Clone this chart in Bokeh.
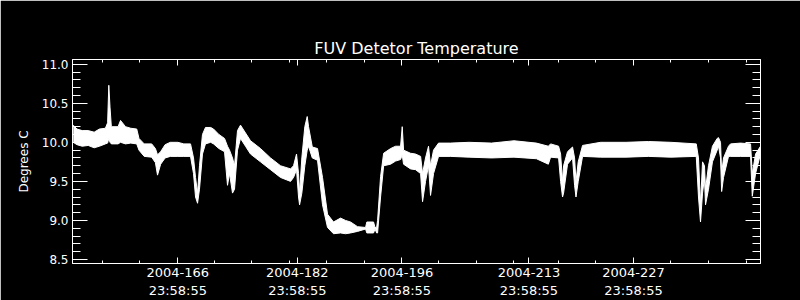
from bokeh.plotting import figure
from bokeh.models import Range1d, LinearAxis, FixedTicker, ColumnDataSource, PrintfTickFormatter
from bokeh.embed import file_html
from bokeh.resources import INLINE

# ---- data (day of year 2004, temperature envelope in deg C) ----
day = [153.0, 153.5, 154.2, 155.0, 155.8, 156.5, 157.3, 157.6, 157.76, 157.92, 158.1,
       159.0, 159.33, 160.0, 160.7, 161.5, 161.8, 162.5, 163.5, 164.0, 164.28, 164.7,
       165.3, 166.0, 167.0, 167.8, 168.7, 169.1, 169.37, 169.64, 169.9, 170.3, 170.7,
       171.4, 171.78, 172.5, 173.25, 173.65, 173.92, 174.32, 174.59, 174.99, 175.39,
       176.06, 176.73, 178.07, 179.41, 180.75, 182.09, 182.49, 182.89, 183.16, 183.3,
       183.6, 184.0, 184.32, 184.5, 185.0, 185.7, 186.37, 187.04, 187.84, 188.78,
       189.45, 190.12, 191.06, 192.13, 192.3, 193.2, 193.4, 193.61, 193.74, 194.14,
       194.55, 195.48, 196.15, 196.82, 197.04, 197.22, 198.15, 198.82, 199.5, 199.76,
       200.16, 200.56, 200.83, 201.23, 201.9, 203.5, 206.0, 209.0, 212.0, 215.0,
       216.6, 216.9, 217.97, 218.24, 218.5, 218.64, 219.17, 219.84, 220.11, 220.3,
       220.6, 221.18, 223.59, 227.0, 230.0, 233.0, 236.4, 236.7, 236.97, 237.24,
       237.5, 237.64, 238.04, 238.57, 239.2, 239.38, 239.65, 239.8, 240.05, 240.72,
       240.99, 242.33, 243.67, 243.9, 244.34, 245.0]
temp_low = [10.00, 9.97, 9.95, 9.96, 9.93, 9.95, 9.98, 9.99, 10.05, 10.00, 9.98,
            9.98, 10.00, 9.98, 9.99, 9.98, 9.90, 9.82, 9.81, 9.74, 9.58, 9.72,
            9.80, 9.82, 9.82, 9.82, 9.82, 9.60, 9.30, 9.22, 9.40, 9.85, 9.98,
            10.00, 9.98, 9.92, 9.88, 9.45, 9.60, 9.35, 9.40, 9.90, 10.05,
            9.95, 9.85, 9.75, 9.65, 9.55, 9.50, 9.55, 9.65, 9.30, 9.20,
            9.35, 9.70, 9.90, 9.95, 9.80, 9.77, 9.20, 8.91, 8.83, 8.84,
            8.83, 8.84, 8.86, 8.89, 8.84, 8.84, 8.89, 8.84, 8.84, 9.30,
            9.70, 9.72, 9.76, 9.78, 9.84, 9.72, 9.66, 9.65, 9.60, 9.24,
            9.50, 9.70, 9.32, 9.60, 9.82, 9.82, 9.81, 9.80, 9.81, 9.79,
            9.72, 9.81, 9.80, 9.50, 9.30, 9.35, 9.72, 9.80, 9.45, 9.30,
            9.50, 9.82, 9.81, 9.81, 9.82, 9.81, 9.82, 9.30, 8.98, 9.35,
            9.55, 9.20, 9.40, 9.75, 9.90, 9.95, 9.80, 9.37, 9.55, 9.82,
            9.82, 9.82, 9.82, 9.31, 9.60, 9.85]
temp_high = [10.22, 10.17, 10.15, 10.15, 10.13, 10.17, 10.18, 10.25, 10.73, 10.45, 10.20,
             10.20, 10.28, 10.20, 10.18, 10.17, 10.05, 9.98, 9.98, 9.92, 9.84, 9.88,
             9.97, 10.00, 10.00, 9.98, 9.98, 9.80, 9.55, 9.35, 9.70, 10.10, 10.19,
             10.19, 10.17, 10.10, 10.05, 9.95, 9.90, 9.80, 9.70, 10.15, 10.22,
             10.12, 10.02, 9.92, 9.80, 9.70, 9.66, 9.70, 9.85, 9.60, 9.35,
             9.80, 10.20, 10.33, 10.20, 9.94, 9.92, 9.55, 9.08, 8.98, 9.03,
             9.00, 8.98, 8.92, 8.91, 8.98, 8.98, 8.91, 8.91, 9.00, 9.56,
             9.86, 9.92, 9.95, 9.95, 10.20, 9.90, 9.86, 9.85, 9.82, 9.60,
             9.80, 9.95, 9.70, 9.90, 9.99, 9.99, 10.00, 9.99, 10.02, 9.99,
             9.95, 9.98, 9.95, 9.85, 9.50, 9.70, 9.88, 9.94, 9.80, 9.50,
             9.75, 9.96, 10.00, 10.00, 10.01, 10.00, 9.98, 9.80, 9.20, 9.75,
             9.70, 9.40, 9.70, 9.95, 10.05, 10.06, 10.00, 9.60, 9.80, 9.95,
             9.98, 9.99, 9.98, 9.60, 9.85, 9.95]

x_major = [166.9992, 182.9992, 196.9992, 213.9992, 227.9992]
x_major_labels = ["2004-166\n23:58:55", "2004-182\n23:58:55", "2004-196\n23:58:55",
                  "2004-213\n23:58:55", "2004-227\n23:58:55"]
x_minor = [156.96, 161.91, 171.95, 176.91, 181.99, 186.95, 192.03, 201.94, 207.03,
           211.98, 218.0, 222.96, 233.0, 238.08, 243.1]
y_major = [8.5, 9.0, 9.5, 10.0, 10.5, 11.0]
y_minor = [8.6, 8.7, 8.8, 8.9, 9.1, 9.2, 9.3, 9.4, 9.6, 9.7, 9.8, 9.9,
           10.1, 10.2, 10.3, 10.4, 10.6, 10.7, 10.8, 10.9]

FONT = "DejaVu Sans"
src = ColumnDataSource(dict(day=day, lo=temp_low, hi=temp_high))

p = figure(width=800, height=300, output_backend="svg", toolbar_location=None,
           x_range=Range1d(152.9, 245.0), y_range=Range1d(8.449, 11.06),
           min_border_left=72, min_border_right=40, min_border_top=59,
           min_border_bottom=37, x_axis_location=None, y_axis_location=None)
p.background_fill_color = "black"
p.border_fill_color = "black"
p.outline_line_color = "white"
p.outline_line_width = 1
p.grid.visible = False

p.title.text = "FUV Detetor Temperature"
p.title.align = "center"
p.title.text_color = "white"
p.title.text_font = FONT
p.title.text_font_size = "16px"
p.title.text_font_style = "normal"
p.title.standoff = 3

p.varea(x="day", y1="lo", y2="hi", source=src, color="white")
p.line(x="day", y="lo", source=src, color="white", line_width=1)
p.line(x="day", y="hi", source=src, color="white", line_width=1)

xt = FixedTicker(ticks=x_major, minor_ticks=x_minor)
yt = FixedTicker(ticks=y_major, minor_ticks=y_minor)

def style(ax, ticklen, minorlen, labels=True, size="12px"):
    ax.axis_line_color = "white"
    ax.major_tick_line_color = "white"
    ax.minor_tick_line_color = "white"
    ax.major_tick_in = ticklen
    ax.major_tick_out = 0
    ax.minor_tick_in = minorlen
    ax.minor_tick_out = 0
    if labels:
        ax.major_label_text_color = "white"
        ax.major_label_text_font = FONT
        ax.major_label_text_font_size = size
        ax.major_label_standoff = 4
    else:
        ax.major_label_text_color = None
        ax.major_label_text_alpha = 0
        ax.major_label_text_font_size = "1px"
        ax.major_label_standoff = 0

bottom = LinearAxis(ticker=xt)
bottom.major_label_overrides = {v: s for v, s in zip(x_major, x_major_labels)}
style(bottom, 6, 3, size="13px")
bottom.major_label_standoff = 1
top = LinearAxis(ticker=xt)
style(top, 6, 3, labels=False)
left = LinearAxis(ticker=yt, axis_label="Degrees C",
                  formatter=PrintfTickFormatter(format="%.1f"))
style(left, 15, 8)
left.axis_label_text_color = "white"
left.axis_label_text_font = FONT
left.axis_label_text_font_size = "12px"
left.axis_label_text_font_style = "normal"
left.axis_label_standoff = 8
right = LinearAxis(ticker=yt)
style(right, 15, 8, labels=False)

p.add_layout(bottom, "below")
p.add_layout(left, "left")
p.add_layout(top, "above")
p.add_layout(right, "right")

open("out.html", "w").write(file_html(p, INLINE))
